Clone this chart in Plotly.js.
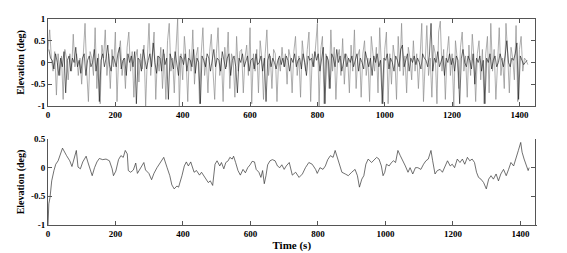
<!DOCTYPE html>
<html>
<head>
<meta charset="utf-8">
<script src="https://cdn.plot.ly/plotly-3.0.1.min.js"></script>
<style>
  html, body { margin: 0; padding: 0; background: #fff; }
  #myGraph { width: 567px; height: 253px; }
</style>
</head>
<body>
<div id="myGraph"></div>
<script>
// 上圖：原始仰角 (灰線) 與 另一組 (黑線)，取樣間隔 5 s
let rawStep = 5;
let rawGray = [
  0.3, 0.75, 0.1, -0.2, 0.25, -0.75, 0.2, -0.3, 0.15, -0.85, 0.3, 0.1, -0.4, 0.2, -0.2, 0.65, -0.1, 0.2, -0.3, 0.1,
  -0.5, 0.3, 0.9, -0.2, -0.9, 0.25, 0.1, -0.3, 0.8, -0.6, 0.2, -0.95, 0.4, 0.1, 0.75, -0.3, 0.2, -0.6, 0.3, -0.1,
  0.7, -0.9, 0.2, 0.5, -0.3, 0.1, -0.6, 0.35, 0.7, -0.2, 0.25, -0.8, 0.1, 0.3, -0.45, 0.2, -0.15, 0.4, -1.0, 0.1,
  0.9, -0.3, 0.25, 0.7, -0.85, 0.15, -0.2, 0.35, -0.6, 0.2, -0.85, 0.5, 0.9, -0.2, 0.1, -0.7, 0.3, 1.0, -1.0, 0.2,
  -0.4, 0.6, 0.1, -0.9, 0.3, -0.2, 0.75, -0.5, 0.15, 0.35, -0.95, 0.2, 0.8, -0.3, 0.1, -0.7, 0.25, 0.65, -0.2, -0.85,
  0.2, 0.8, -0.3, 0.1, -0.9, 0.35, -0.1, 0.7, -0.6, 0.2, 0.05, -0.8, 0.6, -0.2, 0.25, 0.3, -0.7, 0.1, 0.4, -0.3,
  0.8, -0.95, 0.2, -0.2, 0.3, -0.7, 0.5, 0.1, -0.85, 0.2, 0.75, -0.3, 0.15, -0.6, 0.3, 0.2, -0.9, 0.1, -0.2, 0.35,
  -0.1, 0.2, -0.5, 0.3, 0.1, -0.7, 0.25, 0.6, -0.3, 0.15, -0.8, 0.5, 0.1, -0.2, 0.3, 0.7, -0.9, 0.2, -0.1, 0.45,
  0.9, -1.0, 0.3, 0.6, -0.95, 0.2, 0.1, -0.6, 0.75, -0.2, 0.35, -0.85, 0.1, 0.3, -0.3, 0.55, -0.5, 0.2, 0.1, -0.7,
  0.4, -0.2, 0.75, -0.6, 0.15, 0.3, -0.8, 0.2, 0.5, -0.3, 0.1, -0.9, 0.6, 0.2, -0.2, 0.35, -0.7, 0.8, -0.1, -0.95,
  0.3, 0.7, -0.95, 0.2, -0.5, 0.4, 0.1, -0.85, 0.6, -0.2, 0.9, -0.3, 0.15, -0.7, 0.35, 0.1, -0.4, 0.5, -0.2, 0.2,
  -0.6, 0.3, 0.9, -0.9, 0.2, 0.85, -0.3, 0.1, -0.8, 0.4, 0.2, -0.95, 0.7, 0.95, -0.2, 0.3, -0.85, 0.2, 0.6, -0.3,
  0.2, -1.0, 0.5, 0.1, -0.6, 0.35, 0.7, -0.2, 0.15, -0.8, 0.4, -0.3, 0.65, 0.1, -0.9, 0.2, 0.5, -0.4, 0.3, -0.95,
  0.2, 0.6, -0.7, 0.9, -0.2, 0.3, -0.85, 0.15, 0.8, -0.3, 0.1, -0.6, 0.9, 0.2, -0.7, 0.35, 0.1, -0.4, 0.85, -0.9,
  0.3, 0.6, -0.2, 0.1, 0.05, -0.05
];
let rawBlack = [
  0.3, 0.1, 0.05, -0.15, 0.2, 0.0, -0.3, 0.1, -0.1, 0.25, -0.7, 0.05, 0.15, -0.2, 0.1, 0.0, 0.35, -0.1, 0.05, -0.25,
  0.1, 0.2, -0.3, 0.05, 0.15, -0.1, 0.0, 0.3, -0.2, 0.1, -0.9, 0.05, 0.2, -0.1, 0.1, 0.4, -0.05, -0.2, 0.15, 0.05,
  -0.1, 0.2, 0.35, -0.15, 0.05, 0.1, -0.3, 0.2, 0.0, 0.15, -0.1, 0.25, -0.95, 0.1, 0.05, -0.2, 0.3, 0.1, -0.15, 0.05,
  0.2, -0.1, 0.45, 0.0, -0.25, 0.15, 0.1, -0.2, 0.3, -0.05, 0.1, -0.85, 0.2, 0.05, -0.15, 0.25, 0.0, -0.3, 0.15, 0.1,
  -0.05, 0.2, -0.2, 0.1, 0.05, -0.1, 0.3, -0.25, 0.1, 0.0, -0.95, 0.15, 0.05, -0.1, 0.2, 0.1, -0.2, 0.05, 0.3, -0.1,
  0.1, 0.05, -0.2, 0.25, 0.0, -0.15, 0.1, 0.2, -0.3, 0.05, 0.15, -0.1, -0.7, 0.1, 0.0, 0.2, -0.1, 0.05, 0.15, -0.2,
  0.05, 0.1, -0.15, 0.2, -0.05, 0.0, 0.15, -0.2, 0.1, -0.9, 0.05, 0.2, -0.1, 0.1, 0.0, -0.15, 0.05, 0.15, -0.05, 0.1,
  -0.1, 0.15, 0.05, -0.2, 0.1, 0.0, 0.2, -0.1, 0.05, 0.1, -0.15, 0.2, 0.0, -0.3, 0.15, 0.05, 0.1, -0.1, 0.25, 0.05,
  0.2, -0.2, 0.1, 0.35, -0.95, 0.15, 0.05, -0.6, 0.2, 0.1, -0.1, 0.3, 0.0, 0.15, -0.2, 0.05, 0.2, -0.1, 0.1, 0.0,
  0.15, -0.1, 0.05, 0.2, -0.2, 0.1, 0.0, -0.15, 0.25, 0.05, -0.1, 0.1, -0.3, 0.15, 0.0, 0.2, -0.1, 0.05, -0.95, 0.1,
  0.05, 0.2, -0.15, 0.1, 0.0, -0.2, 0.15, 0.05, -0.1, 0.3, 0.4, -0.1, 0.05, 0.2, -0.2, 0.1, 0.0, 0.15, -0.05, 0.1,
  0.0, -0.15, 0.2, 0.1, 0.05, -0.1, 0.15, 0.9, -0.2, 0.1, 0.0, 0.25, -0.1, 0.05, 0.15, -0.3, 0.1, 0.0, 0.2, -0.05,
  0.1, -0.2, 0.15, 0.05, -0.95, 0.1, 0.3, 0.0, -0.1, 0.15, 0.05, -0.15, 0.2, -0.5, 0.1, 0.0, 0.15, -0.2, 0.05, -0.95,
  0.1, 0.0, 0.2, -0.15, 0.05, 0.15, -0.1, 0.0, 0.2, 0.05, -0.1, 0.15, 0.5, 0.0, -0.1, 0.1, 0.05, 0.2, 0.45, -0.85,
  0.15, 0.05, -0.05, 0.0, 0.05
];

// 下圖：平滑後的仰角
let smoothTime = [
  0, 2.5, 6, 11, 17.6, 23, 30, 37, 43, 55, 64.5, 71, 77, 84, 89, 96, 103, 113, 118, 125,
  131, 138, 145, 152, 162, 172, 182, 190, 194, 201, 209, 216, 223, 229, 235, 238, 245, 253, 260, 265,
  275, 284, 289, 299, 307, 314, 323, 333, 343, 353, 361, 367, 374, 382, 387, 397, 404, 410, 416, 423,
  433, 440, 449, 455, 465, 475, 481, 488, 495, 501, 509, 514, 521, 527, 534, 539, 546, 550, 556, 563,
  570, 578, 585, 592, 599, 605, 612, 617, 625, 631, 636, 641, 646, 651, 658, 665, 673, 680, 687, 693,
  700, 706, 715, 724, 734, 744, 754, 763, 773, 783, 793, 798, 806, 815, 822, 829, 837, 845, 851, 856,
  864, 871, 881, 890, 900, 910, 917, 923, 930, 936, 942, 949, 959, 965, 974, 981, 988, 993, 998, 1003,
  1011, 1018, 1024, 1030, 1037, 1044, 1052, 1059, 1067, 1073, 1081, 1089, 1096, 1105, 1113, 1120, 1127, 1135, 1140, 1147,
  1154, 1162, 1169, 1176, 1184, 1192, 1198, 1205, 1213, 1221, 1228, 1235, 1243, 1250, 1257, 1264, 1270, 1276, 1283, 1291,
  1299, 1306, 1313, 1320, 1328, 1335, 1342, 1350, 1358, 1365, 1372, 1380, 1387, 1394, 1401, 1405, 1411, 1417, 1423, 1426
];
let smoothElev = [
  -1.0, -0.63, -0.52, -0.23, -0.05, 0.06, 0.12, 0.24, 0.34, 0.21, 0.12, 0.02, 0.15, 0.3, 0.01, -0.02, 0.1, 0.2, 0.1, -0.05,
  -0.14, 0.0, 0.1, 0.16, 0.14, 0.15, 0.12, -0.02, -0.14, -0.06, 0.14, 0.21, 0.18, 0.3, 0.24, -0.05, -0.08, -0.04, 0.08, -0.1,
  0.0, 0.09, -0.04, -0.1, -0.21, -0.1, 0.0, 0.08, 0.18, 0.0, -0.14, -0.3, -0.37, -0.32, -0.34, -0.14, 0.03, 0.1, 0.03, 0.1,
  -0.08, -0.05, -0.13, -0.08, -0.17, -0.26, -0.23, -0.31, 0.06, 0.12, 0.03, 0.09, -0.02, 0.09, 0.12, 0.18, 0.15, 0.2, 0.09, -0.05,
  -0.13, -0.03, -0.09, 0.0, 0.05, 0.11, 0.1, -0.03, -0.08, -0.17, -0.05, -0.28, -0.14, 0.05, 0.12, 0.14, 0.12, 0.03, 0.0, 0.05,
  -0.03, 0.03, 0.09, -0.13, -0.08, -0.17, -0.11, 0.0, 0.09, 0.06, -0.03, -0.1, 0.0, -0.03, 0.03, 0.14, 0.21, 0.18, 0.3, 0.21,
  0.06, -0.08, -0.11, -0.14, -0.08, -0.03, -0.14, -0.34, -0.2, -0.14, 0.06, 0.15, 0.09, 0.12, 0.18, 0.15, 0.03, -0.14, -0.08, 0.06,
  0.03, 0.09, 0.12, 0.09, 0.3, 0.21, 0.12, 0.03, -0.08, 0.0, -0.11, 0.0, 0.0, -0.03, 0.06, 0.12, 0.15, 0.3, 0.12, -0.11,
  -0.05, -0.03, -0.08, 0.03, 0.12, 0.03, 0.06, 0.0, 0.15, 0.09, 0.15, 0.06, 0.18, 0.12, 0.15, 0.09, -0.08, -0.17, -0.2, -0.26,
  -0.37, -0.2, -0.14, -0.2, -0.11, -0.23, -0.11, -0.03, -0.14, -0.03, 0.09, 0.03, 0.15, 0.3, 0.44, 0.27, 0.15, 0.03, -0.05, 0.0
];

// 刻度
let xTicks = [0, 200, 400, 600, 800, 1000, 1200, 1400];
let topYTicks = [-1, -0.5, 0, 0.5, 1];
let topYText = ['-1', '-0.5', '0', '0.5', '1'];
let botYTicks = [-1, -0.5, 0, 0.5];
let botYText = ['-1', '-0.5', '0', '0.5'];

let rawTimeGray = rawGray.map((v, i) => i * rawStep);
let rawTimeBlack = rawBlack.map((v, i) => i * rawStep + 2.5);

let myGraph = document.getElementById('myGraph');

let trace1 = {
  type: 'scatter', mode: 'lines', x: rawTimeGray, y: rawGray,
  line: {color: '#8c8c8c', width: 0.7}, xaxis: 'x', yaxis: 'y', hoverinfo: 'skip'
};
let trace2 = {
  type: 'scatter', mode: 'lines', x: rawTimeBlack, y: rawBlack,
  line: {color: '#111111', width: 0.6}, xaxis: 'x', yaxis: 'y', hoverinfo: 'skip'
};
let trace3 = {
  type: 'scatter', mode: 'lines', x: smoothTime, y: smoothElev,
  line: {color: '#333333', width: 0.7}, xaxis: 'x2', yaxis: 'y2', hoverinfo: 'skip'
};

let serif = 'Liberation Serif, Times New Roman, serif';
let tickFont = {family: serif, size: 9, color: '#000', weight: 'bold'};
let titleFont = {family: serif, size: 10, color: '#000', weight: 'bold'};
let xRange = [0, 1445];

let baseX = {
  range: xRange, tickvals: xTicks, ticks: 'inside', ticklen: 4, tickcolor: '#555',
  showline: true, linecolor: '#555', linewidth: 1, showgrid: false, zeroline: false,
  tickfont: tickFont
};

let layout = {
  width: 567, height: 253,
  margin: {l: 48, r: 26, t: 19, b: 28},
  paper_bgcolor: '#fff', plot_bgcolor: '#fff',
  showlegend: false,
  xaxis: Object.assign({}, baseX, {domain: [0, 0.987], anchor: 'y', mirror: 'ticks'}),
  yaxis: {
    domain: [0.578, 1], range: [-1, 1], tickvals: topYTicks, ticktext: topYText,
    ticks: 'inside', ticklen: 4, tickcolor: '#555', showline: true, linecolor: '#555', mirror: 'ticks',
    showgrid: false, zeroline: false, tickfont: tickFont,
    title: {text: 'Elevation (deg)', font: titleFont, standoff: 4}
  },
  xaxis2: Object.assign({}, baseX, {
    domain: [0, 0.989], anchor: 'y2', mirror: false,
    title: {text: 'Time (s)', font: {family: serif, size: 11, color: '#000', weight: 'bold'}, standoff: 0}
  }),
  // 下圖上方只有刻度，沒有框線
  xaxis3: {
    domain: [0, 0.989], anchor: 'y2', overlaying: 'x2', side: 'top', range: xRange,
    tickvals: xTicks, ticks: 'inside', ticklen: 4, tickcolor: '#555', showline: false,
    showticklabels: false, showgrid: false, zeroline: false
  },
  yaxis2: {
    domain: [0, 0.4175], range: [-1, 0.5], tickvals: botYTicks, ticktext: botYText,
    ticks: 'inside', ticklen: 4, tickcolor: '#555', showline: true, linecolor: '#555', mirror: 'ticks',
    showgrid: false, zeroline: false, tickfont: tickFont,
    title: {text: 'Elevation (deg)', font: titleFont, standoff: 4}
  }
};

Plotly.newPlot(myGraph, [trace1, trace2, trace3], layout, {staticPlot: true, displayModeBar: false});
</script>
</body>
</html>
